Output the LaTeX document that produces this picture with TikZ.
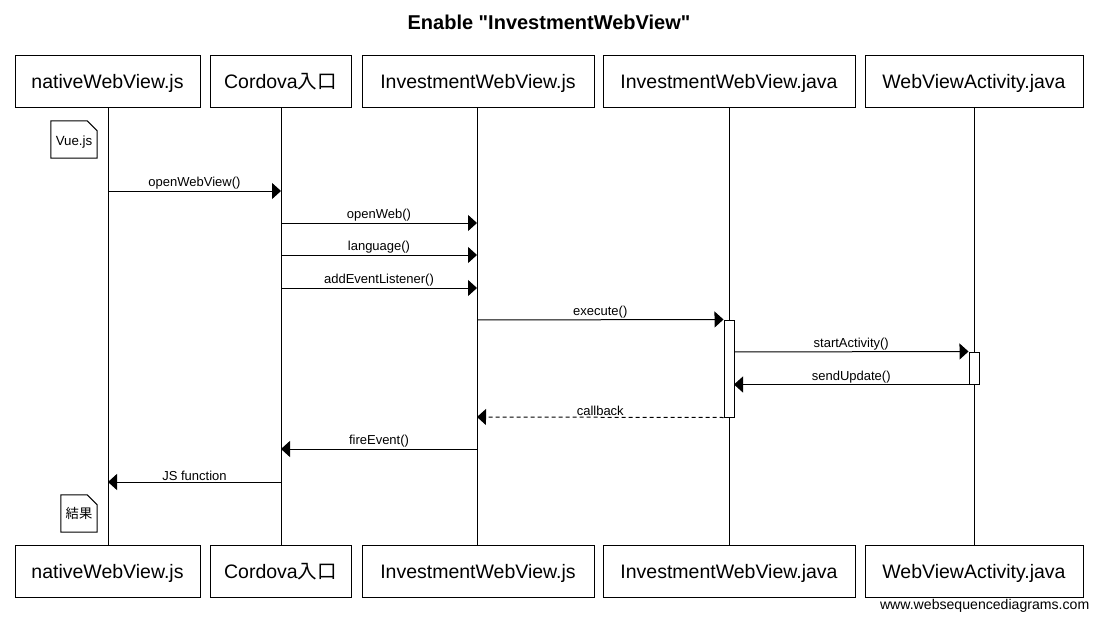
\documentclass[tikz,border=0pt]{standalone}
\usepackage{fontspec}
\setmainfont{Liberation Sans}
\newfontfamily\plainfont{Liberation Sans}
\newfontfamily\cjk{Noto Sans CJK JP}
\usetikzlibrary{arrows.meta,calc}
\tikzset{
  part/.style={draw=black,line width=1pt,minimum height=52pt,inner sep=0pt,text height=14pt,text depth=0pt,font=\fontsize{19.5}{22}\selectfont},
  life/.style={line width=1pt},
  msg/.style={line width=1pt,-{Triangle[length=9pt,width=16pt]}},
  reply/.style={msg,dash pattern=on 4pt off 3pt},
  mlabel/.style={above,inner sep=1.2pt,font=\fontsize{13}{15}\selectfont},
  act/.style={draw=black,fill=white,line width=1pt,minimum width=10pt,inner sep=0pt},
  notebox/.style={inner sep=0pt,font=\fontsize{13.3}{15}\selectfont},
  notepath/.style={draw=black,fill=white,line width=1pt},
}
\begin{document}
\begin{tikzpicture}[x=1pt,y=-1pt]
\useasboundingbox (0,0) rectangle (1098,623);
\fill[white] (0,0) rectangle (1098,623);
\node[font=\plainfont\bfseries\fontsize{20}{24}\selectfont] (title) at (549,22) {Enable "InvestmentWebView"};
% participants top
\node[part,minimum width=185pt] (a) at (107.5,82) {nativeWebView.js};
\node[part,minimum width=141pt] (b) at (280.5,82) {Cordova{\cjk 入口}};
\node[part,minimum width=232pt] (c) at (478,82) {InvestmentWebView.js};
\node[part,minimum width=252pt] (d) at (729,82) {InvestmentWebView.java};
\node[part,minimum width=218pt] (e) at (974,82) {WebViewActivity.java};
% participants bottom
\node[part,minimum width=185pt] (a2) at (107.5,571) {nativeWebView.js};
\node[part,minimum width=141pt] (b2) at (280.5,571) {Cordova{\cjk 入口}};
\node[part,minimum width=232pt] (c2) at (478,571) {InvestmentWebView.js};
\node[part,minimum width=252pt] (d2) at (729,571) {InvestmentWebView.java};
\node[part,minimum width=218pt] (e2) at (974,571) {WebViewActivity.java};
% lifelines
\coordinate (la) at (108,108); \coordinate (la2) at (108,545);
\coordinate (lb) at (281,108); \coordinate (lb2) at (281,545);
\coordinate (lc) at (477,108); \coordinate (lc2) at (477,545);
\coordinate (ld) at (729,108); \coordinate (ld2) at (729,545);
\coordinate (le) at (974,108); \coordinate (le2) at (974,545);
\draw[life] (la) -- (la2);
\draw[life] (lb) -- (lb2);
\draw[life] (lc) -- (lc2);
\draw[life] (ld) -- (ld2);
\draw[life] (le) -- (le2);
% activations
\node[act,minimum height=97pt] (actd) at (729,368.5) {};
\node[act,minimum height=32pt] (acte) at (974,368) {};
% notes
\node[notebox,minimum width=46pt,minimum height=37pt] (n1) at (74,139.5) {};
\draw[notepath] (n1.north west) -- ([xshift=-10pt]n1.north east) -- ([yshift=-10pt]n1.north east) -- (n1.south east) -- (n1.south west) -- cycle;
\node[notebox,anchor=base] (t1) at (74,145.5) {Vue.js};
\node[notebox,minimum width=36pt,minimum height=37pt] (n2) at (79,513.5) {};
\draw[notepath] (n2.north west) -- ([xshift=-10pt]n2.north east) -- ([yshift=-10pt]n2.north east) -- (n2.south east) -- (n2.south west) -- cycle;
\node[notebox,anchor=base] (t2) at (79,518.5) {\cjk 結果};
% message endpoints
\coordinate (m1a) at (108,191); \coordinate (m1b) at (281,191);
\coordinate (m2a) at (281,223); \coordinate (m2b) at (477,223);
\coordinate (m3a) at (281,255); \coordinate (m3b) at (477,255);
\coordinate (m4a) at (281,288); \coordinate (m4b) at (477,288);
\coordinate (m5a) at (477,320);
\coordinate (m6a) at (734,352);
\coordinate (m7b) at (734,384.5);
\coordinate (m8b) at (477,417);
\coordinate (m9a) at (477,449); \coordinate (m9b) at (281,449);
\coordinate (m10a) at (281,482); \coordinate (m10b) at (108,482);
% messages
\draw[msg] (m1a) -- node[mlabel]{openWebView()} (m1b);
\draw[msg] (m2a) -- node[mlabel]{openWeb()} (m2b);
\draw[msg] (m3a) -- node[mlabel]{language()} (m3b);
\draw[msg] (m4a) -- node[mlabel]{addEventListener()} (m4b);
\draw[msg] (m5a) -- node[mlabel]{execute()} (actd.north west);
\draw[msg] (m6a) -- node[mlabel]{startActivity()} (acte.north west);
\draw[msg] (acte.south west) -- node[mlabel]{sendUpdate()} (m7b);
\draw[reply] (actd.south west) -- node[mlabel]{callback} (m8b);
\draw[msg] (m9a) -- node[mlabel]{fireEvent()} (m9b);
\draw[msg] (m10a) -- node[mlabel]{JS function} (m10b);
% watermark
\node[font=\fontsize{14.1}{16}\selectfont,anchor=east,inner sep=0pt] (wm) at (1089.5,606) {www.websequencediagrams.com};
\end{tikzpicture}
\end{document}
